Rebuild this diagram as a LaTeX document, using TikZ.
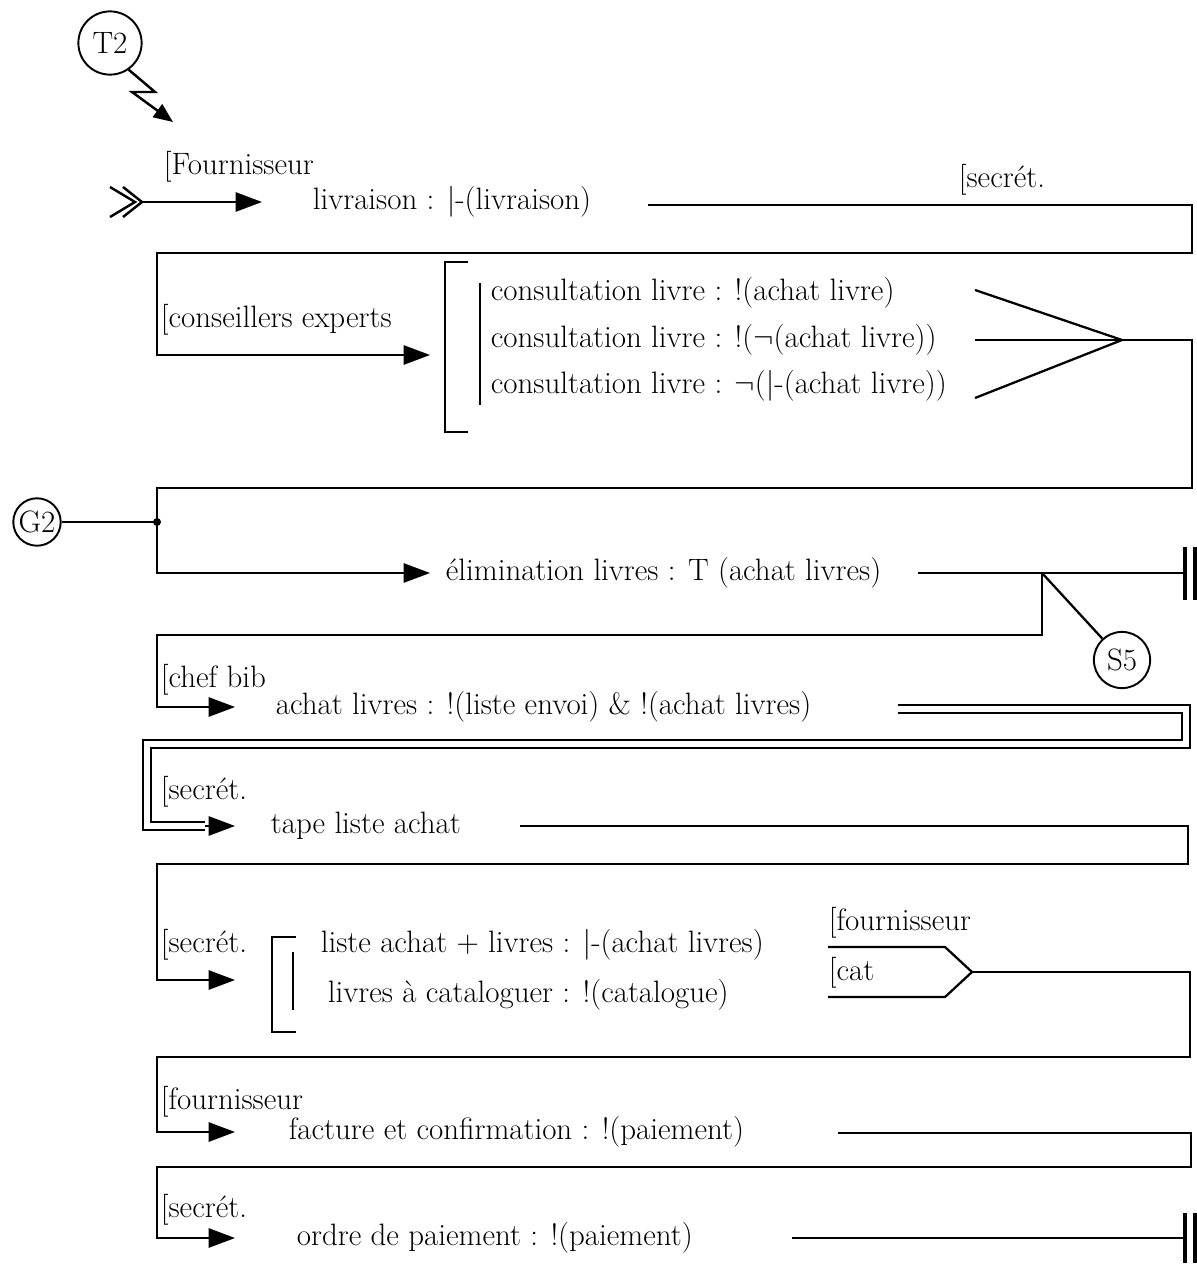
\documentclass[tikz,border=0pt]{standalone}
\usepackage{tikz}
\usetikzlibrary{arrows.meta}

\tikzset{
  lbl/.style={anchor=west, inner sep=0pt, font=\fontsize{17.6}{21}\selectfont},
  rond/.style={draw, circle, line width=1.1pt, inner sep=0pt, font=\fontsize{17.6}{21}\selectfont},
  fl/.style={-{Triangle[length=15pt,width=11pt]}},
  trait/.style={line width=1pt},
  dbl/.style={double, double distance=3.5pt, line width=1pt},
  barre/.style={line width=2pt},
}

\begin{document}
\begin{tikzpicture}[x=0.02cm, y=-0.02cm, trait]
  \useasboundingbox (0,0) rectangle (1197,1265);
  % entree
  \node[rond, minimum size=36pt] (T2) at (110,43) {T2}; \coordinate (eclair) at (173,122);
  \draw[line width=1.4pt, -{Triangle[length=11pt,width=9pt]}] (T2.-55) -- (155,92) -- (132,92) -- (eclair);
  \node[lbl] (fourn) at (163,167) {[Fournisseur};
  \coordinate (src) at (142,202); \coordinate (t1) at (262,202);
  \draw[line width=1.4pt] (110,187) -- (135,202) -- (110,217) (123,187) -- (src) -- (123,217); \draw[fl] (src) -- (t1);
  \node[lbl] (livr) at (312,202) {livraison : \textbar-(livraison)};
  \node[lbl] (sec1) at (958,180) {[secrét.};
  \coordinate (o1) at (648,205); \coordinate (e1) at (1192,253); \coordinate (w1) at (157,253); \coordinate (t2) at (430,355);
  \draw[fl] (o1) -| (e1) -- (w1) |- (t2);
  % conseillers
  \node[lbl] (cons) at (160,320) {[conseillers experts};
  \draw (468,262) -- (445,262) -- (445,432) -- (468,432); \draw (480,283) -- (480,405);
  \node[lbl] (c1) at (490,293) {consultation livre : !(achat livre)};
  \node[lbl] (c2) at (490,340) {consultation livre : !($\neg$(achat livre))};
  \node[lbl] (c3) at (490,386) {consultation livre : $\neg$(\textbar-(achat livre))};
  \coordinate (fan) at (1122,340);
  \foreach \y in {290,340,398} \draw[line width=1.3pt] (975,\y) -- (fan);
  \coordinate (e2) at (1192,488); \coordinate (w2) at (157,488); \coordinate (t3) at (430,573);
  \draw[fl] (fan) -| (e2) -- (w2) |- (t3);
  % elimination
  \node[rond, minimum size=27pt] (G2) at (37,522) {G2}; \coordinate (jg) at (157,522);
  \draw (G2) -- (jg); \fill (jg) circle (4);
  \node[lbl] (elim) at (445,573) {élimination livres : T (achat livres)};
  \coordinate (o3) at (918,573); \coordinate (fin1) at (1185,573); \coordinate (js) at (1042,573);
  \draw (o3) -- (fin1); \draw[barre] (1185,547) -- (1185,600) (1195,547) -- (1195,600);
  \node[rond, minimum size=32pt] (S5) at (1122,660) {S5};
  \draw[line width=1.3pt] (js) -- (S5);
  \coordinate (w3) at (157,635); \coordinate (t4) at (235,707);
  \draw[fl] (js) |- (w3) |- (t4);
  % chef bib
  \node[lbl] (chef) at (160,680) {[chef bib};
  \node[lbl] (achat) at (275,707) {achat livres : !(liste envoi) \& !(achat livres)};
  \coordinate (o4) at (898,709); \coordinate (e4) at (1186,744); \coordinate (w4) at (147,744); \coordinate (d5) at (205,826); \coordinate (t5) at (235,826);
  \draw[dbl] (o4) -| (e4) -- (w4) |- (d5); \draw[fl] (d5) -- (t5);
  % tape
  \node[lbl] (sec2) at (160,792) {[secrét.};
  \node[lbl] (tape) at (270,826) {tape liste achat};
  \coordinate (o5) at (520,826); \coordinate (e5) at (1188,864); \coordinate (w5) at (157,864); \coordinate (t6) at (235,980);
  \draw[fl] (o5) -| (e5) -- (w5) |- (t6);
  % livres
  \node[lbl] (sec3) at (160,945) {[secrét.};
  \draw (296,937) -- (272,937) -- (272,1032) -- (296,1032); \draw (293,952) -- (293,1010);
  \node[lbl] (l1) at (320,945) {liste achat + livres : \textbar-(achat livres)};
  \node[lbl] (l2) at (327,995) {livres à cataloguer : !(catalogue)};
  \node[lbl] (fo) at (828,923) {[fournisseur}; \node[lbl] (cat) at (828,973) {[cat};
  \coordinate (mg) at (972,972);
  \draw[line width=1.3pt] (828,947) -- (945,947) -- (mg) -- (945,997) -- (828,997);
  \coordinate (e6) at (1190,1057); \coordinate (w6) at (157,1057); \coordinate (t7) at (235,1132);
  \draw[fl] (mg) -| (e6) -- (w6) |- (t7);
  % paiement
  \node[lbl] (fo2) at (160,1102) {[fournisseur};
  \node[lbl] (fact) at (288,1132) {facture et confirmation : !(paiement)};
  \coordinate (o7) at (838,1133); \coordinate (e7) at (1191,1167); \coordinate (w7) at (157,1167); \coordinate (t8) at (235,1238);
  \draw[fl] (o7) -| (e7) -- (w7) |- (t8);
  \node[lbl] (sec4) at (160,1210) {[secrét.};
  \node[lbl] (ordre) at (296,1238) {ordre de paiement : !(paiement)};
  \coordinate (o8) at (792,1238); \coordinate (fin2) at (1185,1238);
  \draw (o8) -- (fin2); \draw[barre] (1185,1213) -- (1185,1263) (1195,1213) -- (1195,1263);
\end{tikzpicture}
\end{document}
